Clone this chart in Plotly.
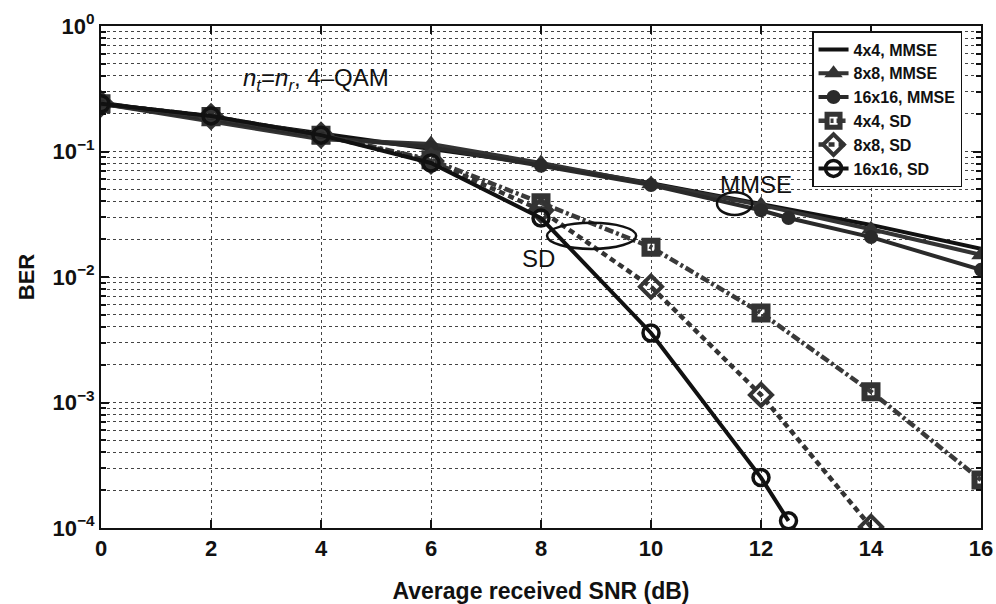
import plotly.graph_objects as go

snr = [0, 2, 4, 6, 8, 10, 12, 14, 16]
snr_16mmse = [0, 2, 4, 6, 8, 10, 12, 12.5, 14, 16]
snr_16sd = [0, 2, 4, 6, 8, 10, 12, 12.5]
snr_8sd = [0, 2, 4, 6, 8, 10, 12, 14]

ber_4x4_mmse = [0.245, 0.185, 0.138, 0.106, 0.079, 0.056, 0.038, 0.026, 0.0168]
ber_8x8_mmse = [0.24, 0.172, 0.125, 0.115, 0.081, 0.055, 0.0375, 0.024, 0.015]
ber_16x16_mmse = [0.24, 0.18, 0.13, 0.108, 0.077, 0.054, 0.034, 0.0295, 0.0208, 0.0114]
ber_4x4_sd = [0.24, 0.19, 0.135, 0.086, 0.039, 0.0173, 0.00517, 0.00122, 0.000241]
ber_8x8_sd = [0.24, 0.19, 0.135, 0.084, 0.034, 0.00837, 0.00115, 0.000102]
ber_16x16_sd = [0.24, 0.192, 0.135, 0.081, 0.0295, 0.00358, 0.000252, 0.000114]

names = ["4x4, MMSE", "8x8, MMSE", "16x16, MMSE", "4x4, SD", "8x8, SD", "16x16, SD"]

fig = go.Figure()
fig.add_trace(go.Scatter(x=snr, y=ber_4x4_mmse, name=names[0], mode="lines",
                         line=dict(color="#111111", width=4)))
fig.add_trace(go.Scatter(x=snr, y=ber_8x8_mmse, name=names[1], mode="lines+markers",
                         line=dict(color="#333333", width=4),
                         marker=dict(symbol="triangle-up", size=17, color="#333333")))
fig.add_trace(go.Scatter(x=snr_16mmse, y=ber_16x16_mmse, name=names[2], mode="lines+markers",
                         line=dict(color="#2a2a2a", width=4),
                         marker=dict(symbol="circle", size=14, color="#2a2a2a")))
fig.add_trace(go.Scatter(x=snr, y=ber_4x4_sd, name=names[3], mode="lines+markers",
                         line=dict(color="#3a3a3a", width=4.5, dash="9px,3px,3px,3px"),
                         marker=dict(symbol="square-open", size=13, color="#333333",
                                     line=dict(width=6, color="#333333"))))
fig.add_trace(go.Scatter(x=snr_8sd, y=ber_8x8_sd, name=names[4], mode="lines+markers",
                         line=dict(color="#333333", width=4.5, dash="6px,4px"),
                         marker=dict(symbol="diamond-open", size=17, color="#333333",
                                     line=dict(width=4, color="#333333"))))
fig.add_trace(go.Scatter(x=snr_16sd, y=ber_16x16_sd, name=names[5], mode="lines+markers",
                         line=dict(color="#111111", width=4),
                         marker=dict(symbol="circle-open", size=16, color="#111111",
                                     line=dict(width=3.5, color="#111111"))))

yticks = [1e-4, 1e-3, 1e-2, 1e-1, 1]
ytext = ["10<sup>−4</sup>", "10<sup>−3</sup>", "10<sup>−2</sup>", "10<sup>−1</sup>", "10<sup>0</sup>"]

font_family = "Liberation Sans, Arial, sans-serif"

fig.update_layout(
    width=996, height=604,
    margin=dict(l=101, r=15, t=26, b=76),
    paper_bgcolor="white", plot_bgcolor="white",
    font=dict(family=font_family, size=20, color="#111111", weight="bold"),
    showlegend=True,
    legend=dict(x=0.808, y=0.99, xanchor="left", yanchor="top",
                bgcolor="white", bordercolor="#111111", borderwidth=1.5,
                font=dict(size=16, color="#111111", weight="bold"), tracegroupgap=0,
                itemwidth=30),
    xaxis=dict(range=[0, 16], tickvals=[0, 2, 4, 6, 8, 10, 12, 14, 16],
               automargin=False,
               showgrid=True, gridcolor="#444444", griddash="dot", gridwidth=1,
               ticks="inside", ticklen=8, tickwidth=2, tickcolor="#111111",
               showline=True, linecolor="#111111", linewidth=2, mirror="ticks",
               zeroline=False,
               title=dict(text="Average received SNR (dB)", font=dict(size=23, weight="bold"), standoff=22),
               tickfont=dict(size=22, weight="bold")),
    yaxis=dict(type="log", range=[-4, 0], tickvals=yticks, ticktext=ytext,
               automargin=False,
               showgrid=True, gridcolor="#444444", griddash="dot", gridwidth=1,
               ticks="inside", ticklen=8, tickwidth=2, tickcolor="#111111",
               showline=True, linecolor="#111111", linewidth=2, mirror="ticks",
               minor=dict(showgrid=True, gridcolor="#444444", griddash="dot", gridwidth=1,
                          ticks="inside", ticklen=5, tickwidth=1.5, tickcolor="#111111",
                          dtick="D1"),
               title=dict(text="BER", font=dict(size=22, weight="bold"), standoff=12),
               tickfont=dict(size=22, weight="bold")),
)

fig.add_annotation(x=3.9, y=0.928, xref="x", yref="y domain",
                   text="<i>n<sub>t</sub></i>=<i>n<sub>r</sub></i>, 4–QAM",
                   showarrow=False, font=dict(size=24, color="#111111", weight="normal"))
fig.add_annotation(x=11.9, y=0.716, xref="x", yref="y domain", text="MMSE",
                   showarrow=False, font=dict(size=24, color="#111111", weight="normal"))
fig.add_annotation(x=7.95, y=0.536, xref="x", yref="y domain", text="SD",
                   showarrow=False, font=dict(size=24, color="#111111", weight="normal"))

fig.add_shape(type="circle", xref="x", yref="y domain", x0=11.2, x1=11.84, y0=0.6235, y1=0.669,
              line=dict(color="#111111", width=2.5))
fig.add_shape(type="circle", xref="x", yref="y domain", x0=8.11, x1=9.73, y0=0.556, y1=0.608,
              line=dict(color="#111111", width=2.5))

fig.write_html("out.html")
